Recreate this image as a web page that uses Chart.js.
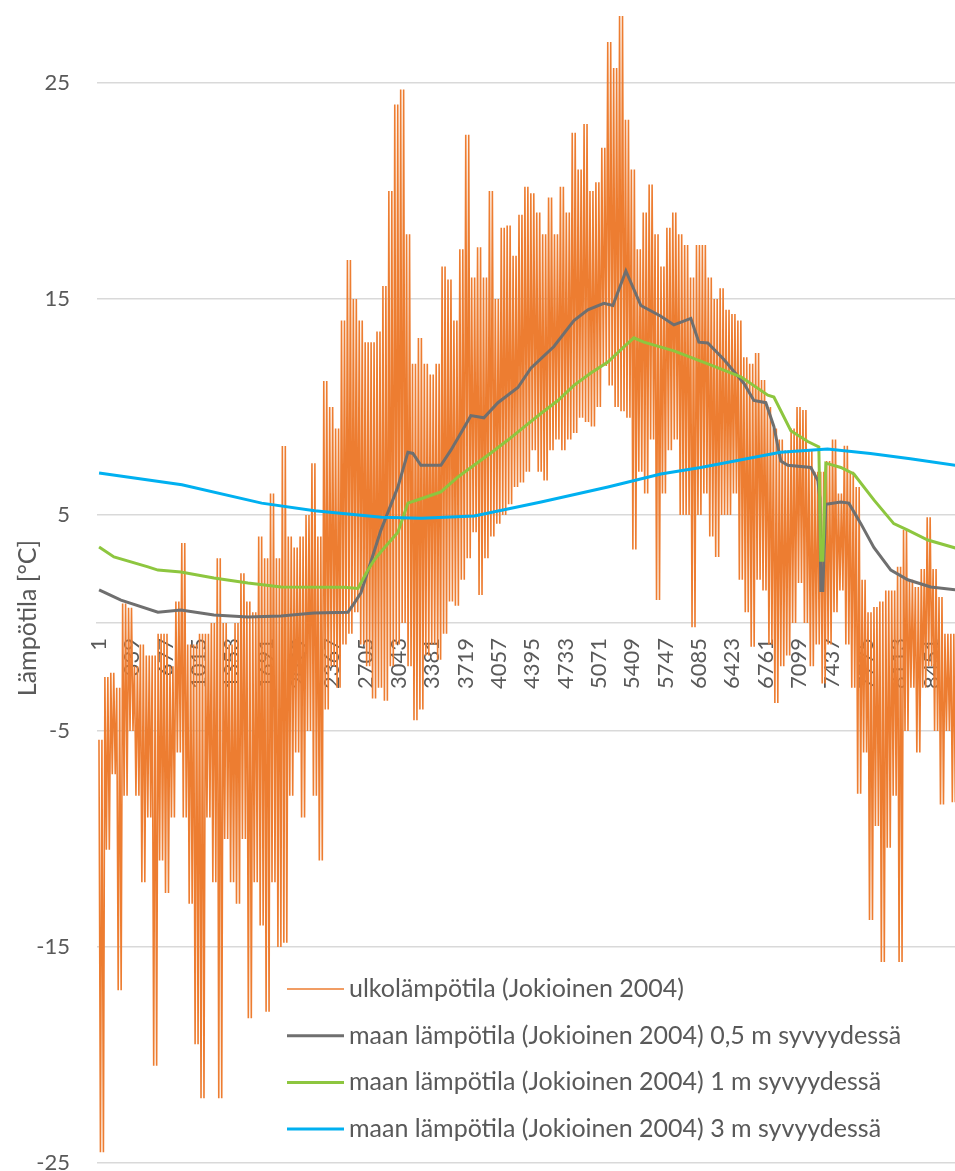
<!DOCTYPE html>
<html>
<head>
<meta charset="utf-8">
<title>Lämpötila Jokioinen 2004</title>
<script src="https://cdn.jsdelivr.net/npm/chart.js@4.4.1/dist/chart.umd.min.js"></script>
<style>
    html, body { margin: 0; padding: 0; background: #fff; overflow: hidden; }
    #wrap { width: 955px; height: 1171px; }
</style>
</head>
<body>
<div id="wrap"><canvas id="lampoChart" width="955" height="1171"></canvas></div>
<script>
// tunnit (x) ja lämpötilat (y), luettu kuvasta
const xTickLabels = [1, 339, 677, 1015, 1353, 1691, 2029, 2367, 2705, 3043, 3381, 3719, 4057,
    4395, 4733, 5071, 5409, 5747, 6085, 6423, 6761, 7099, 7437, 7775, 8113, 8451];
const yTickLabels = [-25, -15, -5, 5, 15, 25];

const seriesNames = [
    'ulkolämpötila (Jokioinen 2004)',
    'maan lämpötila (Jokioinen 2004) 0,5 m syvyydessä',
    'maan lämpötila (Jokioinen 2004) 1 m syvyydessä',
    'maan lämpötila (Jokioinen 2004) 3 m syvyydessä'
];
const yTitle = 'Lämpötila [°C]';

// ulkolämpötila: jakson (60 h) ylin ja alin arvo
const outdoorStep = 60;
const outdoorHigh = [
    -5.4, -2.5, -2.3, -3, 0.9, 0.7, -2, -1, -1.5, -1.5,
    -0.5, -0.5, -2, 1, 3.7, -1, -1, -0.5, -0.5, 0,
    3.0, 0, -1, 0, 2.3, 1, 0.5, 4.0, 3, 6.0,
    3, 8.2, 4, 3.5, 4, 5, 7.4, 4, 11.2, 10,
    9, 14, 16.8, 15, 14, 13, 13, 13.5, 15.6, 20,
    24, 24.7, 18, 12, 13.2, 12, 11.5, 12, 16.5, 15.9,
    14, 17.3, 22.6, 16, 17.4, 16, 20.0, 15, 18.3, 18.4,
    17, 18.9, 20.2, 19.9, 19.0, 18, 19.7, 18, 20.2, 19,
    22.7, 21, 23.1, 20, 20.4, 22, 26.9, 25.7, 28.1, 23.3,
    21, 17.3, 19, 20.3, 18, 16.5, 18.3, 19.0, 18, 17.5,
    16, 17.5, 17.5, 16, 15, 15.5, 14.5, 14.3, 14, 12.3,
    12, 12.5, 11.25, 10, 9, 8.5, 8, 9, 10, 9.86,
    8, 7, 7, 7.5, 8.5, 6, 8.2, 7, 6.3, 2,
    0.5, 0.74, 1, 1.5, 1.5, 2.6, 4.3, 2, 1.67, 2.5,
    4.9, 2.5, 1.2, -0.5, -0.5, -1, -1
];
const outdoorLow = [
    -24.5, -10.5, -7, -17, -8, -5, -8, -12, -9, -20.5,
    -11, -12.5, -9, -6, -9, -13, -19.5, -22, -9, -12,
    -22, -10, -12, -13, -10, -18.3, -12, -14, -18, -12,
    -15, -14.8, -8, -6, -9, -5, -8, -11, -4, -2,
    -3, -1, -0.5, 0.5, -1, -2, -3.5, -3, -3.6, -2,
    -1, 0, -2, -4.5, -4, -1.5, -1, -1.7, -0.5, 1,
    0.8, 2, 3, 4.2, 1.3, 3, 4, 4.6, 5, 5.5,
    6.3, 6.5, 7, 8.0, 7, 6.6, 8, 8.5, 8, 8.5,
    8.8, 9.5, 9.3, 9.1, 10, 11.9, 11, 10, 9.8, 9.5,
    3.4, 7, 6.0, 8.5, 1.06, 6, 8, 8.5, 5, 5,
    -0.2, 5, 6, 4, 3.06, 5, 5, 6.0, 2, 0.5,
    -1.1, 2, 1.5, -1, -3.7, -2, -1.5, 0, 1.85, 0,
    -2, -1, -2.8, -1, 0.5, 1.5, -1, -3, -7.9, -6,
    -13.75, -9.4, -15.7, -10.4, -8, -15.7, -5, -3, -6.0, -3,
    -2, -5, -8.4, -5, -8.3, -7, -6
];

// maan lämpötila 0,5 m
const groundHours05 = [1, 223, 598, 831, 1166, 1511, 1846, 2181, 2525, 2586, 2657, 2860, 3032, 3133,
    3184, 3265, 3468, 3569, 3671, 3772, 3904, 4046, 4249, 4380, 4614, 4817, 4958, 5121, 5212, 5344,
    5496, 5699, 5831, 6003, 6084, 6175, 6338, 6540, 6642, 6763, 6845, 6915, 6987, 7220, 7291, 7311,
    7321, 7341, 7372, 7524, 7605, 7727, 7859, 8031, 8203, 8436, 8690, 8784];
const ground05 = [1.53, 1.06, 0.5, 0.6, 0.37, 0.28, 0.32, 0.46, 0.5, 0.9, 1.4, 4.3, 6.3, 7.9,
    7.85, 7.3, 7.3, 8.0, 8.8, 9.6, 9.5, 10.2, 10.9, 11.8, 12.8, 14.0, 14.5, 14.8, 14.7, 16.3,
    14.7, 14.2, 13.8, 14.1, 13.0, 12.96, 12.2, 11.1, 10.3, 10.2, 9.1, 7.5, 7.3, 7.2, 6.6, 5.8,
    1.5, 1.5, 5.5, 5.6, 5.55, 4.6, 3.5, 2.45, 2.0, 1.67, 1.53, 1.5];

// maan lämpötila 1 m
const groundHours1 = [1, 152, 497, 598, 831, 1166, 1511, 1846, 2484, 2626, 2728, 2789, 2860, 3032,
    3133, 3296, 3468, 3641, 3803, 3975, 4147, 4310, 4482, 4654, 4817, 4989, 5161, 5324, 5425, 5526,
    5831, 6175, 6510, 6784, 6845, 7017, 7189, 7301, 7321, 7341, 7372, 7524, 7656, 7859, 8061, 8203,
    8406, 8690, 8784];
const ground1 = [3.52, 3.06, 2.6, 2.45, 2.36, 2.08, 1.85, 1.67, 1.65, 1.6, 2.45, 2.9, 3.3, 4.2,
    5.55, 5.8, 6.07, 6.76, 7.3, 7.87, 8.47, 9.07, 9.7, 10.3, 11.0, 11.57, 12.08, 12.78, 13.2, 13.0,
    12.6, 12.0, 11.4, 10.55, 10.46, 8.9, 8.4, 8.15, 2.9, 2.9, 7.4, 7.2, 6.9, 5.7, 4.6, 4.3,
    3.84, 3.47, 3.4];

// maan lämpötila 3 m
const groundHours3 = [1, 841, 1650, 2187, 2865, 3270, 3806, 4484, 5162, 5698, 6103, 6913, 7389,
    7824, 8229, 8690, 8784];
const ground3 = [6.94, 6.4, 5.55, 5.2, 4.9, 4.85, 4.95, 5.6, 6.3, 6.9, 7.2, 7.9, 8.05,
    7.85, 7.6, 7.3, 7.2];

const seriesColors = ['#ED7D31', '#6F6F6F', '#8DC63F', '#00B0F0'];
const textColor = '#595959';
const gridColor = '#D9D9D9';

function toPoints(hours, values) {
    return hours.map(function(h, i) { return { x: h, y: values[i] }; });
}

// jokaisesta jaksosta kaksi heilahdusta ylimmän ja alimman arvon välillä
const outdoorPoints = [];
outdoorHigh.forEach(function(hi, i) {
    const h = i * outdoorStep;
    outdoorPoints.push({ x: h, y: hi });
    outdoorPoints.push({ x: h + outdoorStep / 4, y: outdoorLow[i] });
    outdoorPoints.push({ x: h + outdoorStep / 2, y: hi });
    outdoorPoints.push({ x: h + outdoorStep * 3 / 4, y: outdoorLow[i] });
});

// selite ja pystyakselin otsikko piirretään itse
const overlayPlugin = {
    id: 'overlay',
    afterDraw: function(chart) {
        const ctx = chart.ctx;
        ctx.save();
        ctx.fillStyle = textColor;
        ctx.font = '25px Lato';
        ctx.textAlign = 'center';
        ctx.textBaseline = 'middle';
        ctx.translate(28, 618);
        ctx.rotate(-Math.PI / 2);
        ctx.fillText(yTitle, 0, 0);
        ctx.restore();

        ctx.save();
        ctx.font = '25px Lato';
        ctx.textAlign = 'left';
        ctx.textBaseline = 'middle';
        chart.data.datasets.forEach(function(ds, i) {
            const y = 989 + i * 46.7;
            ctx.strokeStyle = ds.borderColor;
            ctx.lineWidth = i === 0 ? 1.5 : 3;
            ctx.beginPath();
            ctx.moveTo(287, y);
            ctx.lineTo(344, y);
            ctx.stroke();
            ctx.fillStyle = textColor;
            ctx.fillText(ds.label, 349, y);
        });
        ctx.restore();
    }
};

const ctx = document.getElementById('lampoChart');
new Chart(ctx, {
    type: 'line',
    data: {
        datasets: [{
            label: seriesNames[0],
            data: outdoorPoints,
            borderColor: seriesColors[0],
            borderWidth: 1.6,
            order: 4
        }, {
            label: seriesNames[1],
            data: toPoints(groundHours05, ground05),
            borderColor: seriesColors[1],
            borderWidth: 3,
            order: 3
        }, {
            label: seriesNames[2],
            data: toPoints(groundHours1, ground1),
            borderColor: seriesColors[2],
            borderWidth: 3,
            order: 2
        }, {
            label: seriesNames[3],
            data: toPoints(groundHours3, ground3),
            borderColor: seriesColors[3],
            borderWidth: 3,
            order: 1
        }]
    },
    options: {
        responsive: false,
        animation: false,
        layout: {
            padding: { top: 2, right: 0, bottom: 8, left: 0 }
        },
        elements: {
            point: { radius: 0 },
            line: { tension: 0, fill: false }
        },
        plugins: {
            legend: { display: false },
            tooltip: { enabled: false }
        },
        scales: {
            x: {
                type: 'linear',
                min: -20,
                max: 8682,
                position: { y: 0 },
                afterBuildTicks: function(scale) {
                    scale.ticks = xTickLabels.map(function(v) { return { value: v }; });
                },
                afterFit: function(scale) {
                    scale.paddingLeft = 0;
                    scale.paddingRight = 0;
                },
                grid: { display: false, drawTicks: false },
                border: { display: true, color: gridColor, width: 1.5 },
                ticks: {
                    autoSkip: false,
                    minRotation: 90,
                    maxRotation: 90,
                    padding: 15,
                    color: textColor,
                    font: { family: 'Lato', size: 22 },
                    callback: function(value) { return String(value); }
                }
            },
            y: {
                type: 'linear',
                min: -25,
                max: 28.75,
                afterBuildTicks: function(scale) {
                    scale.ticks = yTickLabels.map(function(v) { return { value: v }; });
                },
                afterFit: function(scale) {
                    scale.width = 97;
                    scale.paddingTop = 0;
                    scale.paddingBottom = 0;
                },
                grid: { color: gridColor, lineWidth: 1.5, drawTicks: false },
                border: { display: false },
                ticks: {
                    padding: 27,
                    color: textColor,
                    font: { family: 'Lato', size: 22 },
                    callback: function(value) { return String(value); }
                }
            }
        }
    },
    plugins: [overlayPlugin]
});
</script>
</body>
</html>
